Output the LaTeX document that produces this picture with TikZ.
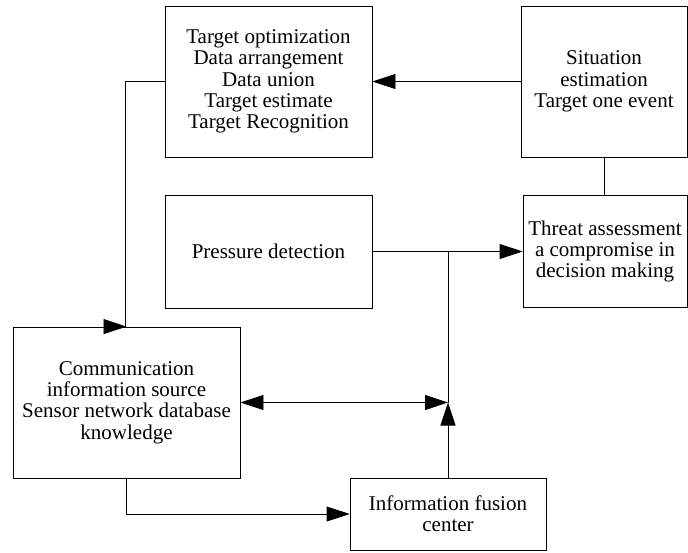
\documentclass[tikz,border=0pt]{standalone}
\usepackage{fontspec}
\setmainfont{Liberation Serif}
\usepackage{tikz}
\usetikzlibrary{positioning, arrows.meta, calc}

\begin{document}
\begin{tikzpicture}[
        x=1pt, y=-1pt,
        block/.style={draw, rectangle, inner sep=0pt, align=center, line width=0.8pt, font=\fontsize{21}{21.3}\selectfont},
        flow/.style={draw, line width=0.8pt, -{Triangle[length=23pt, width=15pt]}},
        both/.style={draw, line width=0.8pt, {Triangle[length=23pt, width=15pt]}-{Triangle[length=23pt, width=15pt]}},
        link/.style={draw, line width=0.8pt}
    ]
    \useasboundingbox (0,0) rectangle (688,552);

    \node[block, minimum width=207pt, minimum height=151pt] (optim) at (268.5,81.5) {Target optimization\\Data arrangement\\Data union\\Target estimate\\Target Recognition};
    \node[block, minimum width=166pt, minimum height=151pt] (situ) at (604,81.5) {Situation\\estimation\\Target one event};
    \node[block, minimum width=207pt, minimum height=113pt] (press) at (268.5,251.5) {Pressure detection};
    \node[block, minimum width=164pt, minimum height=112pt] (threat) at (605,251.5) {Threat assessment\\a compromise in\\decision making};
    \node[block, minimum width=227pt, minimum height=151pt] (comm) at (126.5,402.5) {Communication\\information source\\Sensor network database\\knowledge};
    \node[block, minimum width=196pt, minimum height=72pt] (fusion) at (448,514) {Information fusion\\center};

    \coordinate (join) at (448,251.5);
    \coordinate (meet) at (448,402.5);

    \path[flow] (situ.west) -- (optim.east);
    \path[flow] (optim.west) -- ++(-39,0) |- (comm.north);
    \path[link] (situ.south) -- (situ.south |- threat.north);
    \path[flow] (press.east) -- (threat.west);
    \path[flow] (fusion.north) -- (meet);
    \path[link] (meet) -- (join);
    \path[both] (comm.east) -- (meet);
    \path[flow] (comm.south) |- (fusion.west);
\end{tikzpicture}
\end{document}
